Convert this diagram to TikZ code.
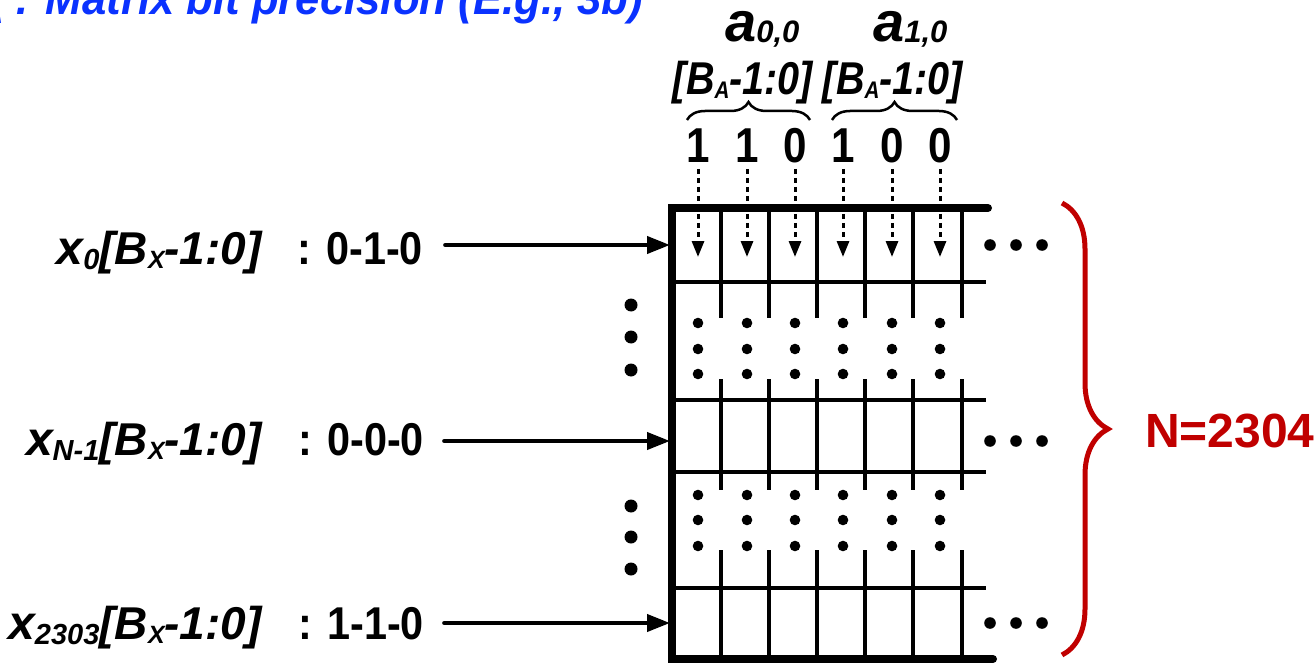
\documentclass[tikz,border=0pt]{standalone}
\usepackage{fontspec}
\setmainfont{Liberation Sans}
\newfontfamily\cA{Liberation Sans}[FakeStretch=0.86]
\newfontfamily\cB{Liberation Sans}[FakeStretch=0.9]
\newfontfamily\cC{Liberation Sans}[FakeStretch=0.95]
\usetikzlibrary{arrows.meta,decorations.pathreplacing}
\definecolor{myred}{RGB}{192,0,0}
\definecolor{myblue}{RGB}{10,50,255}
\newcommand{\fs}[1]{\fontsize{#1}{#1}\selectfont}
\newcommand{\xlab}[1]{{\fs{48}x}{\fs{29}\raisebox{-5pt}{#1}}{\fs{46}[B}{\fs{25}\raisebox{-4pt}{X}}{\fs{46}-1:0]}}
\newcommand{\balab}{{\fs{46}[B}{\fs{24}\raisebox{-4pt}{A}}{\fs{46}-1:0]}}
\newcommand{\alab}[1]{{\fs{56}a}{\fs{31}\raisebox{-1pt}{#1}}}
\begin{document}
\begin{tikzpicture}[x=1pt,y=-1pt,
  lbl/.style={inner sep=0pt, font=\bfseries\itshape},
  val/.style={inner sep=0pt, font=\cB\bfseries\fs{46}},
  bit/.style={inner sep=0pt, font=\cA\bfseries\fs{49}},
  inarrow/.style={line width=4pt, line cap=round, -{Triangle[length=23pt,width=17pt]}},
  bitarrow/.style={line width=3pt, dash pattern=on 5pt off 4pt, -{Triangle[length=16pt,width=12pt]}},
  thick border/.style={line width=8pt, line cap=round, line join=miter},
  thin line/.style={line width=4pt},
  sbrace/.style={decorate, decoration={brace, amplitude=18pt}, line width=2.5pt},
  rbrace/.style={decorate, decoration={brace, amplitude=46pt}, line width=5pt, myred}
]
\useasboundingbox (0,0) rectangle (1314,663);

% blue title (clipped at top)
\node[lbl, anchor=base west, text=myblue, font=\cC\bfseries\itshape] (title) at (-48,15)
  {{\fs{46}B}{\fs{28}\raisebox{-9pt}{A}}\fs{46} : Matrix bit precision (E.g., 3b)};

% grid borders
\draw[thick border] (988,208) -- (672,208) -- (672,659) -- (993,659);
% horizontal thin lines
\foreach \y in {282,400,472,588}
  \draw[thin line] (672,\y) -- (986,\y);
% vertical thin lines
\foreach \x in {721,769,817,865,913,962} {
  \draw[thin line] (\x,208) -- (\x,318);
  \draw[thin line] (\x,379) -- (\x,490);
  \draw[thin line] (\x,550) -- (\x,659);
}
% dots inside grid
\foreach \x in {698,747,795,843,892,940}
  \foreach \y in {323,349,374,495,520,546}
    \fill (\x,\y) circle (5.3);
% left vertical ellipses
\foreach \y in {305,337,370,506,537,569}
  \fill (631,\y) circle (6.5);
% right horizontal ellipses
\foreach \y in {245,441,623}
  \foreach \x in {990,1016,1042}
    \fill (\x,\y) circle (5.8);

% row labels
\node[lbl, anchor=base east] (l0) at (262,264) {\xlab{0}};
\node[lbl, anchor=base east] (l1) at (262,455) {\xlab{N-1}};
\node[lbl, anchor=base east] (l2) at (262,639) {\xlab{2303}};
\node[val, anchor=base west] (v0) at (297,264) {: 0-1-0};
\node[val, anchor=base west] (v1) at (298,455) {: 0-0-0};
\node[val, anchor=base west] (v2) at (298,639) {: 1-1-0};

% input arrow targets
\coordinate (in0) at (670,245);
\coordinate (in1) at (670,441);
\coordinate (in2) at (670,623);
\draw[inarrow] ([xshift=22pt]v0.east |- in0) -- (in0);
\draw[inarrow] ([xshift=20pt]v1.east |- in1) -- (in1);
\draw[inarrow] ([xshift=20pt]v2.east |- in2) -- (in2);

% top bits
\node[bit, anchor=base] (d1) at (698,163) {1};
\node[bit, anchor=base] (d2) at (747,163) {1};
\node[bit, anchor=base] (d3) at (795,163) {0};
\node[bit, anchor=base] (d4) at (843,163) {1};
\node[bit, anchor=base] (d5) at (892,163) {0};
\node[bit, anchor=base] (d6) at (940,163) {0};
\foreach \d in {d1,d2,d3,d4,d5,d6} {
  \coordinate (t\d) at ([yshift=-94pt]\d.base);
  \draw[bitarrow] ([yshift=-6pt]\d.base) -- (t\d);
}

% braces and element labels
\draw[sbrace] (687,120) -- (810,120);
\draw[sbrace] (832,120) -- (957,120);
\node[lbl, anchor=base, font=\cA\bfseries\itshape] (b0) at (743,95) {\balab};
\node[lbl, anchor=base, font=\cA\bfseries\itshape] (b1) at (893,95) {\balab};
\node[lbl, anchor=base west] (a0) at (725,42) {\alab{0,0}};
\node[lbl, anchor=base west] (a1) at (873,42) {\alab{1,0}};

% red brace and N
\draw[rbrace] (1062,203) -- (1062,655);
\node[inner sep=0pt, anchor=base west, text=myred, font=\bfseries\fs{48}] (n) at (1145,447) {N=2304};
\end{tikzpicture}
\end{document}
